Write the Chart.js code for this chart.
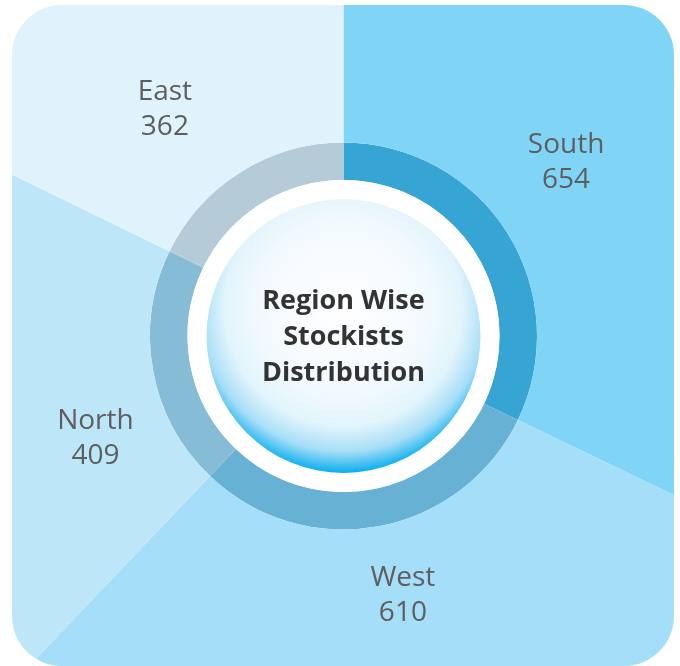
<!DOCTYPE html>
<html><head><meta charset="utf-8">
<script src="https://cdn.jsdelivr.net/npm/chart.js@4/dist/chart.umd.min.js"></script>
<style>
html,body{margin:0;padding:0;background:#fff;}
#frame{position:absolute;left:12px;top:5px;width:662px;height:661px;border-radius:50px;overflow:hidden;}
#wrap{position:absolute;left:-12px;top:-5px;width:680px;height:666px;}
canvas{display:block;}
</style></head><body>
<div id="frame"><div id="wrap"><canvas id="c" width="680" height="666"></canvas></div></div>
<script>
const regions = ['South', 'West', 'North', 'East'];
const stockists = [654, 610, 409, 362];
const titleLines = ['Region Wise', 'Stockists', 'Distribution'];

const pieColors = ['#80d4f6', '#a5def8', '#bde6f8', '#e0f3fc'];
const ringColors = ['#36a5d3', '#67b1d4', '#87bcd6', '#b5cbd7'];
// label placement style: angular nudge (deg) from slice middle and distance from centre
const labelShiftDeg = [-6, -2.6, -12, -6];
const labelRadius = [283, 265, 268, 290];

const centerPlugin = {
  id: 'centerPlugin',
  afterDatasetsDraw(chart) {
    const ctx = chart.ctx;
    const meta0 = chart.getDatasetMeta(0);
    const meta1 = chart.getDatasetMeta(1);
    const a0 = meta0.data[0];
    const cx = a0.x, cy = a0.y;
    const innerR = meta1.data[0].innerRadius;
    const discR = innerR - 19;
    ctx.save();
    ctx.beginPath();
    ctx.arc(cx, cy, innerR, 0, Math.PI * 2);
    ctx.fillStyle = '#ffffff';
    ctx.fill();
    const g = ctx.createRadialGradient(cx, cy - 28, 0, cx, cy - 28, discR + 28);
    g.addColorStop(0, '#ffffff');
    g.addColorStop(0.5, '#f3fafe');
    g.addColorStop(0.72, '#e2f4fc');
    g.addColorStop(0.87, '#a6def7');
    g.addColorStop(1, '#0aaeee');
    ctx.beginPath();
    ctx.arc(cx, cy, discR, 0, Math.PI * 2);
    ctx.fillStyle = g;
    ctx.fill();
    ctx.fillStyle = '#333333';
    ctx.font = 'bold 27px "Open Sans"';
    ctx.textAlign = 'center';
    ctx.textBaseline = 'alphabetic';
    const lh = 36;
    titleLines.forEach((t, i) => {
      ctx.fillText(t, cx, cy + 9 + (i - 1) * lh);
    });
    ctx.fillStyle = '#5e5e5e';
    ctx.font = '28px "Open Sans"';
    ctx.textBaseline = 'middle';
    meta0.data.forEach((arc, i) => {
      const mid = (arc.startAngle + arc.endAngle) / 2 + labelShiftDeg[i] * Math.PI / 180;
      const r = labelRadius[i];
      const x = cx + Math.cos(mid) * r;
      const y = cy + Math.sin(mid) * r;
      ctx.fillText(regions[i], x, y - 16);
      ctx.fillText(String(stockists[i]), x, y + 19);
    });
    ctx.restore();
  }
};

new Chart(document.getElementById('c'), {
  type: 'doughnut',
  data: {
    labels: regions,
    datasets: [
      { data: stockists, backgroundColor: pieColors, borderWidth: 0, weight: 286.5, clip: false },
      { data: stockists, backgroundColor: ringColors, borderWidth: 0, weight: 37.5, clip: false }
    ]
  },
  options: {
    responsive: false,
    animation: false,
    radius: 480,
    cutout: '32.5%',
    layout: { padding: { left: 7, top: 6, right: 0, bottom: 0 } },
    plugins: { legend: { display: false }, tooltip: { enabled: false } },
    events: []
  },
  plugins: [centerPlugin]
});
</script>
</body></html>
